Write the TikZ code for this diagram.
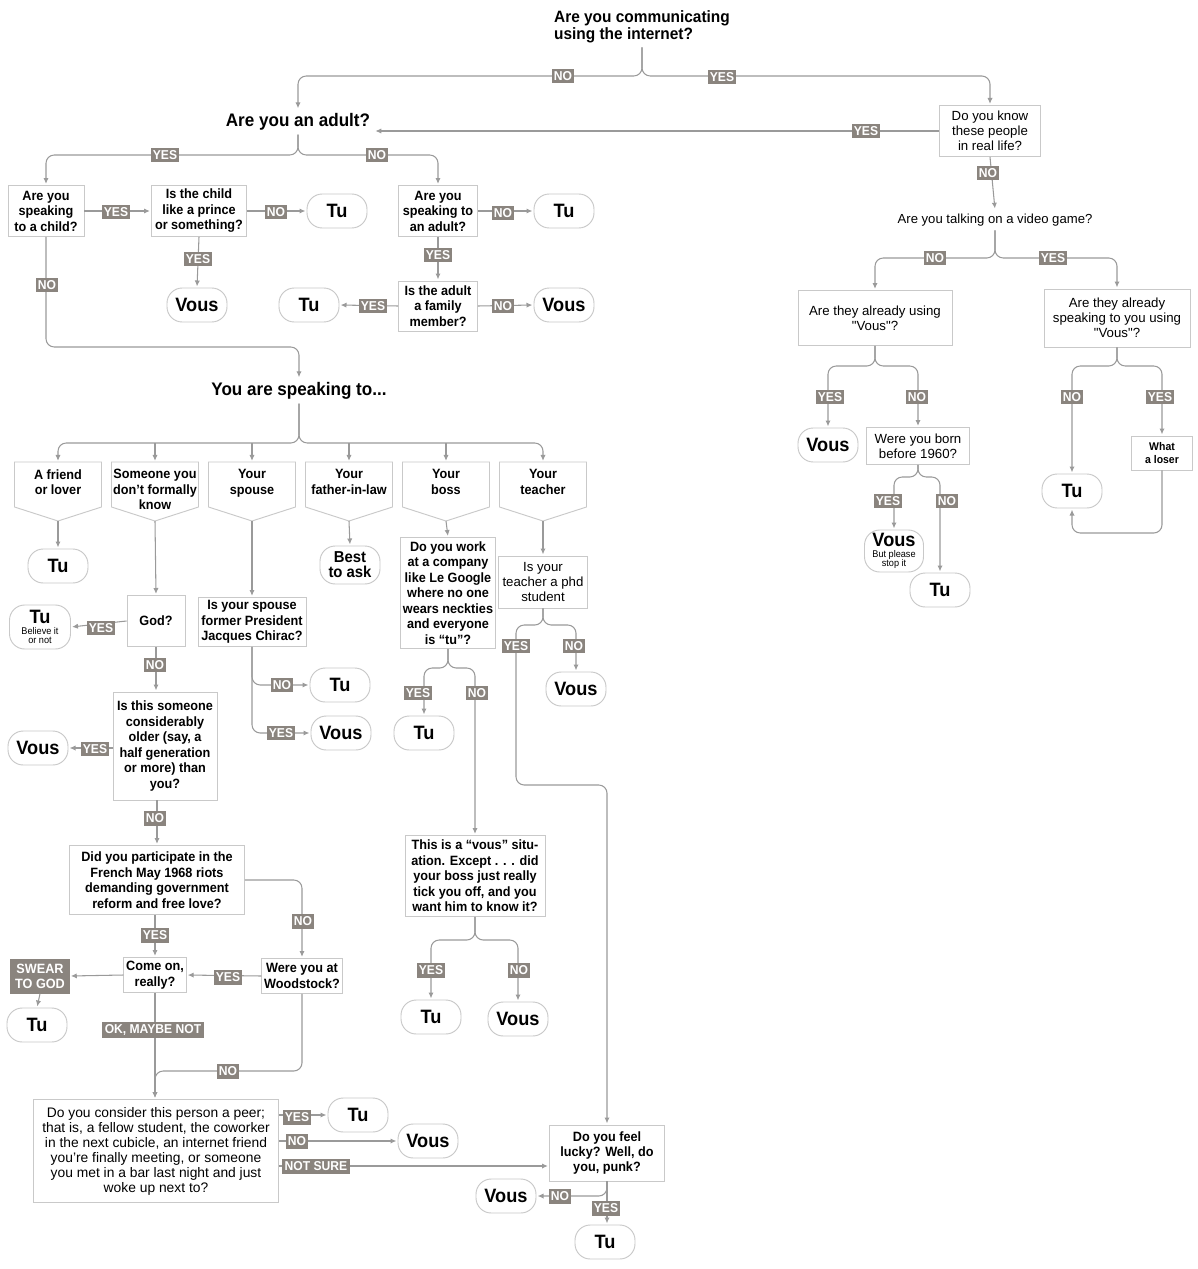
\documentclass[tikz,border=0pt]{standalone}
\usepackage{fontspec}
\setmainfont{Liberation Sans}
\newfontfamily\cond{Liberation Sans}[FakeStretch=0.94, Ligatures=TeX]
\usetikzlibrary{arrows.meta,positioning,calc}
\definecolor{linegray}{HTML}{9A9A9A}
\definecolor{boxgray}{HTML}{C9C9C9}
\definecolor{labgray}{HTML}{8A847E}
\newcommand{\subnote}[1]{{\fontsize{8.3}{8}\selectfont\mdseries #1}}
\newcommand{\dq}{\textquotedbl}

\begin{document}
\begin{tikzpicture}[
		x=0.03cm, y=-0.03cm,
		>={Latex[length=5pt,width=4.5pt]},
		link/.style={draw=linegray, line width=0.9pt, rounded corners=7pt},
		arr/.style={link, ->, shorten >=1pt},
		qbox/.style={draw=boxgray, line width=0.8pt, fill=white, align=center, inner sep=2pt,
			font=\cond\bfseries\fontsize{11.5}{13.2}\selectfont},
		qlight/.style={qbox, font=\fontsize{11.3}{12.8}\selectfont},
		term/.style={draw=boxgray, line width=0.8pt, rounded corners=13pt, align=center, inner sep=1pt,
			minimum width=1.8cm, minimum height=1.02cm, font=\cond\bfseries\fontsize{16.5}{16}\selectfont},
		lab/.style={fill=labgray, text=white, inner xsep=2pt, inner ysep=2.5pt,
			font=\cond\bfseries\fontsize{11}{12}\selectfont},
		head/.style={font=\cond\bfseries\fontsize{15.5}{17}\selectfont}
		]
		
		\fill[white] (0,0) rectangle (1197,1269);
		\useasboundingbox (0,0) rectangle (1197,1269);
		
		% --------------------------------------------------
		% Top and right column
		% --------------------------------------------------
		\node[font=\cond\bfseries\fontsize{14}{14.5}\selectfont, align=left] (title) at (642,27)
		{Are you communicating\\using the internet?};
		\node[head] (adult) at (298,122) {Are you an adult?};
		\node[qlight, minimum width=3.03cm, minimum height=1.53cm] (dk) at (990,131) {Do you know\\these people\\in real life?};
		\node[font=\fontsize{11.2}{12}\selectfont] (video) at (995,220) {Are you talking on a video game?};
		\node[qlight, minimum width=4.62cm, minimum height=1.65cm] (already) at (875,318) {Are they already using\\\dq Vous\dq?};
		\node[qlight, minimum width=4.38cm, minimum height=1.74cm] (speaking) at (1117,318) {Are they already\\speaking to you using\\\dq Vous\dq?};
		\node[term] (vousA) at (828,445) {Vous};
		\node[qlight, minimum width=3.09cm, minimum height=1.11cm] (born) at (918,446) {Were you born\\before 1960?};
		\node[term, minimum width=1.77cm, minimum height=1.26cm] (vousB) at (894,551) {Vous\\[-7pt]\subnote{But please}\\[-8pt]\subnote{stop it}};
		\node[term] (tuB) at (940,590) {Tu};
		\node[term] (tuR) at (1072,491) {Tu};
		\node[qbox, font=\cond\bfseries\fontsize{9.5}{11}\selectfont, minimum width=1.83cm, minimum height=1.02cm] (loser) at (1162,453) {What\\a loser};
		
		% --------------------------------------------------
		% Adult / child block
		% --------------------------------------------------
		\node[qbox, minimum width=2.28cm, minimum height=1.53cm] (spchild) at (46,211) {Are you\\speaking\\to a child?};
		\node[qbox, minimum width=2.85cm, minimum height=1.53cm] (prince) at (199,211) {Is the child\\like a prince\\or something?};
		\node[term] (tuA) at (337,211) {Tu};
		\node[term] (vousC) at (197,305) {Vous};
		\node[qbox, minimum width=2.37cm, minimum height=1.53cm] (spadult) at (438,211) {Are you\\speaking to\\an adult?};
		\node[term] (tuD) at (564,211) {Tu};
		\node[qbox, minimum width=2.37cm, minimum height=1.5cm] (family) at (438,306) {Is the adult\\a family\\member?};
		\node[term] (tuE) at (309,305) {Tu};
		\node[term] (vousE) at (564,305) {Vous};
		
		\node[head] (speakto) at (299,391) {You are speaking to...};
		
		% the six pointed boxes
		\foreach \n/\x/\t in {friend/58/{A friend\\or lover}, stranger/155/{Someone you\\don't formally\\know},
			spouse/252/{Your\\spouse}, inlaw/349/{Your\\father-in-law}, boss/446/{Your\\boss}, teacher/543/{Your\\teacher}}
		{
			\draw[draw=boxgray, line width=0.8pt] (\x-43.5,462) -- (\x+43.5,462) -- (\x+43.5,507) -- (\x,521) -- (\x-43.5,507) -- cycle;
			\node[font=\cond\bfseries\fontsize{11.5}{13.2}\selectfont, align=center, anchor=north, inner sep=2pt] (\n) at (\x,467) {\t};
			\coordinate (\n-top) at (\x,462);
			\coordinate (\n-tip) at (\x,521);
		}
		
		% --------------------------------------------------
		% Lower left
		% --------------------------------------------------
		\node[term] (tuF) at (58,566) {Tu};
		\node[qbox, minimum width=1.74cm, minimum height=1.53cm] (god) at (156,621) {God?};
		\node[term, minimum width=1.83cm, minimum height=1.32cm] (tuG) at (40,627) {Tu\\[-7pt]\subnote{Believe it}\\[-8pt]\subnote{or not}};
		\node[qbox, minimum width=3.12cm, minimum height=3.24cm] (older) at (165,746) {Is this someone\\considerably\\older (say, a\\half generation\\or more) than\\you?};
		\node[term] (vousO) at (38,748) {Vous};
		\node[qbox, minimum width=5.25cm, minimum height=2.07cm] (riots) at (157,880) {Did you participate in the\\French May 1968 riots\\demanding government\\reform and free love?};
		\node[qbox, minimum width=2.31cm, minimum height=1.05cm] (woodstock) at (302,976) {Were you at\\Woodstock?};
		\node[qbox, minimum width=1.83cm, minimum height=1.05cm] (comeon) at (155,975) {Come on,\\really?};
		\node[lab, font=\cond\bfseries\fontsize{11.5}{13}\selectfont, align=center, minimum width=1.77cm, minimum height=1.05cm] (swear) at (40,976) {SWEAR\\TO GOD};
		\node[term] (tuS) at (37,1025) {Tu};
		\node[qlight, font=\fontsize{11.8}{12.8}\selectfont, minimum width=7.35cm, minimum height=3.09cm] (peer) at (156,1151)
		{Do you consider this person a peer;\\that is, a fellow student, the coworker\\in the next cubicle, an internet friend\\you're finally meeting, or someone\\you met in a bar last night and just\\woke up next to?};
		\node[term] (tuP) at (358,1115) {Tu};
		\node[term] (vousP) at (428,1141) {Vous};
		\node[qbox, minimum width=3.45cm, minimum height=1.68cm] (lucky) at (607,1153) {Do you feel\\lucky? Well, do\\you, punk?};
		\node[term] (vousL) at (506,1196) {Vous};
		\node[term] (tuL) at (605,1242) {Tu};
		
		% --------------------------------------------------
		% Spouse, in-law, boss, teacher
		% --------------------------------------------------
		\node[qbox, minimum width=3.24cm, minimum height=1.47cm] (chirac) at (252,622) {Is your spouse\\former President\\Jacques Chirac?};
		\node[term] (tuC) at (340,685) {Tu};
		\node[term] (vousCh) at (341,733) {Vous};
		\node[term, font=\cond\bfseries\fontsize{13.5}{13}\selectfont, minimum height=1.14cm] (best) at (350,565) {Best\\to ask};
		\node[qbox, minimum width=2.85cm, minimum height=3.33cm] (google) at (448,593) {Do you work\\at a company\\like Le Google\\where no one\\wears neckties\\and everyone\\is ``tu''?};
		\node[term] (tuGo) at (424,733) {Tu};
		\node[qbox, minimum width=4.2cm, minimum height=2.43cm] (situation) at (475,876) {This is a ``vous'' situ-\\ation. Except . . . did\\your boss just really\\tick you off, and you\\want him to know it?};
		\node[term] (tuSi) at (431,1017) {Tu};
		\node[term] (vousSi) at (518,1019) {Vous};
		\node[qlight, minimum width=2.67cm, minimum height=1.56cm] (phd) at (543,582) {Is your\\teacher a phd\\student};
		\node[term] (vousT) at (576,689) {Vous};
		\coordinate (phdbend) at (516,785);
		
		% --------------------------------------------------
		% Connectors
		% --------------------------------------------------
		\draw[arr] (title.south) -- (title.south |- 0,76) -- (adult.north |- 0,76) -- (adult.north);
		\draw[arr] (title.south) -- (title.south |- 0,76) -- (dk.north |- 0,76) -- (dk.north);
		\draw[arr] (dk.west) -- (dk.west -| adult.east);
		\draw[arr] (dk.south) -- (video.north);
		\draw[arr] (video.south) -- (video.south |- 0,258) -- (already.north |- 0,258) -- (already.north);
		\draw[arr] (video.south) -- (video.south |- 0,258) -- (speaking.north |- 0,258) -- (speaking.north);
		\draw[arr] (already.south) -- (already.south |- 0,366) -- (vousA.north |- 0,366) -- (vousA.north);
		\draw[arr] (already.south) -- (already.south |- 0,366) -- (born.north |- 0,366) -- (born.north);
		\draw[arr] (born.south) -- (born.south |- 0,477) -- (vousB.north |- 0,477) -- (vousB.north);
		\draw[arr] (born.south) -- (born.south |- 0,477) -- (tuB.north |- 0,477) -- (tuB.north);
		\draw[arr] (speaking.south) -- (speaking.south |- 0,366) -- (tuR.north |- 0,366) -- (tuR.north);
		\draw[arr] (speaking.south) -- (speaking.south |- 0,366) -- (loser.north |- 0,366) -- (loser.north);
		\draw[arr] (loser.south) -- (loser.south |- 0,533) -- (tuR.south |- 0,533) -- (tuR.south);
		
		\draw[arr] (adult.south) -- (adult.south |- 0,155) -- (spchild.north |- 0,155) -- (spchild.north);
		\draw[arr] (adult.south) -- (adult.south |- 0,155) -- (spadult.north |- 0,155) -- (spadult.north);
		\draw[arr] (spchild.east) -- (prince.west);
		\draw[arr] (prince.east) -- (tuA.west);
		\draw[arr] (prince.south) -- (vousC.north);
		\draw[arr] (spadult.east) -- (tuD.west);
		\draw[arr] (spadult.south) -- (family.north);
		\draw[arr] (family.west) -- (tuE.east);
		\draw[arr] (family.east) -- (vousE.west);
		\draw[arr] (spchild.south) -- (spchild.south |- 0,347) -- (speakto.north |- 0,347) -- (speakto.north);
		
		\draw[arr] (speakto.south) -- (speakto.south |- 0,443) -- (friend-top |- 0,443) -- (friend-top);
		\draw[arr] (speakto.south) -- (speakto.south |- 0,443) -- (teacher-top |- 0,443) -- (teacher-top);
		\foreach \n in {stranger,spouse,inlaw,boss}
		\draw[arr, sharp corners] (\n-top |- 0,443) -- (\n-top);
		
		\draw[arr] (friend-tip) -- (tuF.north);
		\draw[arr] (stranger-tip) -- (god.north);
		\draw[arr] (god.west) -- (tuG.east);
		\draw[arr] (god.south) -- (god.south |- older.north);
		\draw[arr] (older.west |- vousO.east) -- (vousO.east);
		\draw[arr] (older.south -| riots.north) -- (riots.north);
		\draw[arr] (riots.east) -| (woodstock.north);
		\draw[arr] (riots.south -| comeon.north) -- (comeon.north);
		\draw[arr] (woodstock.west) -- (comeon.east);
		\draw[arr] (comeon.west) -- (swear.east);
		\draw[arr] (swear.south) -- (tuS.north);
		\draw[arr] (comeon.south) -- (comeon.south |- peer.north);
		\draw[arr] (woodstock.south) -- (woodstock.south |- 0,1071) -- (comeon.south |- 0,1071) -- (comeon.south |- peer.north);
		\draw[arr] (tuP.west -| peer.east) -- (tuP.west);
		\draw[arr] (vousP.west -| peer.east) -- (vousP.west);
		\draw[arr] (peer.east |- 0,1166) -- (lucky.west |- 0,1166);
		\draw[arr] (lucky.south) |- (vousL.east);
		\draw[arr] (lucky.south) -- (lucky.south |- tuL.north);
		
		\draw[arr] (spouse-tip) -- (chirac.north);
		\draw[arr] (chirac.south) |- (tuC.west);
		\draw[arr] (chirac.south) |- (vousCh.west);
		\draw[arr] (inlaw-tip) -- (best.north);
		\draw[arr] (boss-tip) -- (google.north);
		\draw[arr] (google.south) -- (google.south |- 0,668) -- (tuGo.north |- 0,668) -- (tuGo.north);
		\draw[arr] (google.south) -- (google.south |- 0,668) -- (situation.north |- 0,668) -- (situation.north);
		\draw[arr] (situation.south) -- (situation.south |- 0,940) -- (tuSi.north |- 0,940) -- (tuSi.north);
		\draw[arr] (situation.south) -- (situation.south |- 0,940) -- (vousSi.north |- 0,940) -- (vousSi.north);
		\draw[arr] (teacher-tip) -- (phd.north);
		\draw[arr] (phd.south) -- (phd.south |- 0,625) -- (vousT.north |- 0,625) -- (vousT.north);
		\draw[arr] (phd.south) -- (phd.south |- 0,625) -- (phdbend |- 0,625) -- (phdbend) -- (lucky.north |- phdbend) -- (lucky.north);
		
		% --------------------------------------------------
		% Answer tags
		% --------------------------------------------------
		\foreach \x/\y/\t [count=\i] in {563/76/NO, 722/77/YES, 866/131/YES, 988/173/NO, 935/258/NO, 1053/258/YES,
			830/397/YES, 917/397/NO, 888/501/YES, 947/501/NO, 1072/397/NO, 1160/397/YES,
			165/155/YES, 377/155/NO, 116/212/YES, 276/212/NO, 198/259/YES, 503/213/NO, 438/255/YES,
			373/306/YES, 503/306/NO, 47/285/NO, 101/628/YES, 155/665/NO, 95/749/YES, 155/818/NO,
			155/935/YES, 303/921/NO, 228/977/YES, 153/1030/{OK, MAYBE NOT}, 228/1071/NO,
			282/685/NO, 281/733/YES, 418/693/YES, 477/693/NO, 431/970/YES, 519/970/NO,
			516/646/YES, 574/646/NO, 297/1117/YES, 297/1141/NO, 316/1166/NOT SURE, 560/1196/NO, 606/1208/YES}
		\node[lab] (tag\i) at (\x,\y) {\t};
		
	\end{tikzpicture}
\end{document}
